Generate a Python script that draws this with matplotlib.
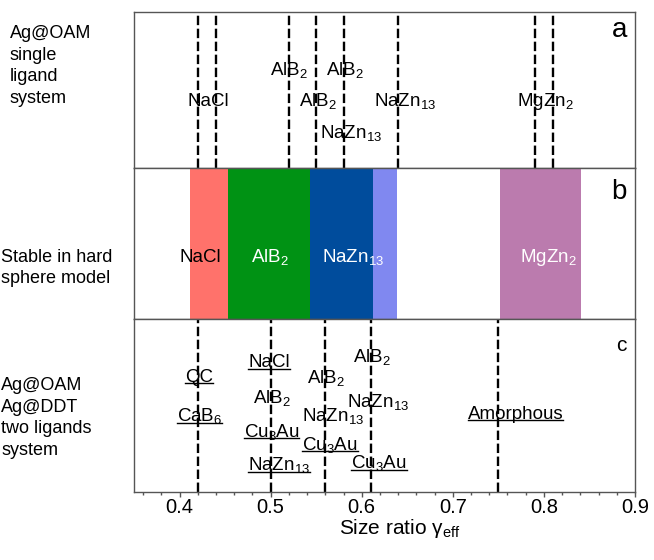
import numpy as np
import matplotlib
matplotlib.use("Agg")
import matplotlib.pyplot as plt
from matplotlib.lines import Line2D

plt.rcParams['font.family'] = ['Liberation Sans', 'DejaVu Sans']
plt.rcParams['mathtext.fontset'] = 'custom'
plt.rcParams['mathtext.rm'] = 'Liberation Sans'
plt.rcParams['mathtext.it'] = 'Liberation Sans:italic'
plt.rcParams['mathtext.default'] = 'regular'

# Panel a: Ag@OAM single ligand system
a_lines = [0.42, 0.44, 0.52, 0.55, 0.58, 0.64, 0.79, 0.81]
a_labels = ['AlB$_2$', 'AlB$_2$', 'NaCl', 'AlB$_2$', 'NaZn$_{13}$', 'MgZn$_2$', 'NaZn$_{13}$']
a_label_x = [0.520, 0.582, 0.432, 0.552, 0.648, 0.802, 0.588]
a_label_y = [0.596, 0.596, 0.397, 0.397, 0.397, 0.397, 0.192]

# Panel b: stable in hard sphere model
b_phases = ['NaCl', 'AlB$_2$', 'NaZn$_{13}$', '', 'MgZn$_2$']
b_start = [0.412, 0.453, 0.543, 0.612, 0.752]
b_end = [0.453, 0.543, 0.612, 0.639, 0.841]
b_colors = ['#ff726b', '#009214', '#004c9c', '#8088f0', '#bb7bae']
b_text_colors = ['black', 'white', 'white', 'white', 'white']
b_label_x = [0.423, 0.499, 0.590, 0.625, 0.805]
b_label_y = 0.379

# Panel c: Ag@OAM / Ag@DDT two ligands system
c_lines = [0.42, 0.50, 0.56, 0.61, 0.75]
c_labels = ['QC', 'CaB$_6$', 'NaCl', 'AlB$_2$', 'Cu$_3$Au', 'NaZn$_{13}$',
            'AlB$_2$', 'NaZn$_{13}$', 'Cu$_3$Au', 'AlB$_2$', 'NaZn$_{13}$',
            'Cu$_3$Au', 'Amorphous']
c_label_x = [0.421, 0.422, 0.498, 0.502, 0.501, 0.509,
             0.561, 0.569, 0.565, 0.611, 0.618, 0.619, 0.769]
c_label_y = [0.638, 0.410, 0.721, 0.513, 0.320, 0.127,
             0.628, 0.410, 0.243, 0.753, 0.493, 0.137, 0.422]
c_underline = [True, True, True, False, True, True,
               False, False, True, False, False, True, True]

fig = plt.figure(figsize=(6.54, 5.6), dpi=100)
gs = fig.add_gridspec(3, 1, height_ratios=[156, 151, 173], hspace=0,
                      left=134/654, right=635/654, top=1-12/560, bottom=1-492/560)
axes = [fig.add_subplot(gs[i]) for i in range(3)]

dash = (0, (4, 1.5))
fs = 13.5

for ax in axes:
    ax.set_xlim(0.35, 0.9)
    ax.set_ylim(0, 1)
    ax.set_yticks([])
    for s in ax.spines.values():
        s.set_color('#555555')
        s.set_linewidth(1)

# a
ax = axes[0]
for x in a_lines:
    ax.axvline(x, color='black', ls=dash, lw=1.7)
for t, x, y in zip(a_labels, a_label_x, a_label_y):
    ax.text(x, y, t, ha='center', va='baseline', fontsize=fs,
            transform=ax.get_xaxis_transform())
ax.text(0.984, 0.84, 'a', ha='right', va='baseline', fontsize=20, transform=ax.transAxes)
ax.set_xticks([])

# b
ax = axes[1]
for s, e, c in zip(b_start, b_end, b_colors):
    ax.axvspan(s, e, color=c, lw=0, zorder=2)
for t, x, c in zip(b_phases, b_label_x, b_text_colors):
    if t:
        ax.text(x, b_label_y, t, ha='center', va='baseline', fontsize=fs, color=c,
                transform=ax.get_xaxis_transform(), zorder=3)
ax.text(0.984, 0.793, 'b', ha='right', va='baseline', fontsize=20, transform=ax.transAxes)
ax.set_xticks([])

# c
ax = axes[2]
for x in c_lines:
    ax.axvline(x, color='black', ls=dash, lw=1.7)
c_texts = []
for t, x, y in zip(c_labels, c_label_x, c_label_y):
    c_texts.append(ax.text(x, y, t, ha='center', va='baseline', fontsize=fs,
                           transform=ax.get_xaxis_transform()))
ax.text(0.984, 0.815, 'c', ha='right', va='baseline', fontsize=15, transform=ax.transAxes)
ax.set_xticks(np.arange(0.4, 0.91, 0.1))
ax.set_xticks(np.arange(0.36, 0.91, 0.02), minor=True)
ax.set_xticklabels([f'{v:.1f}' for v in np.arange(0.4, 0.91, 0.1)])
ax.tick_params(axis='x', which='major', direction='out', length=3.5, width=1,
               labelsize=14.5, pad=1, color='#555555')
ax.tick_params(axis='x', which='minor', direction='out', length=2, width=1,
               color='#555555')

fig.text(400/654, 1-534/560, 'Size ratio γ$_{eff}$', ha='center', va='baseline',
         fontsize=15)

# side labels
fig.text(10/654, 1-66/560, 'Ag@OAM\nsingle\nligand\nsystem', ha='left', va='center',
         fontsize=13, linespacing=1.36)
fig.text(1/654, 1-268/560, 'Stable in hard\nsphere model', ha='left', va='center',
         fontsize=13, linespacing=1.36)
fig.text(1/654, 1-418/560, 'Ag@OAM\nAg@DDT\ntwo ligands\nsystem', ha='left', va='center',
         fontsize=13, linespacing=1.36)

# underlines for panel c
fig.canvas.draw()
renderer = fig.canvas.get_renderer()
inv = ax.transAxes.inverted()
for t, y, u in zip(c_texts, c_label_y, c_underline):
    if not u:
        continue
    bb = t.get_window_extent(renderer)
    x0 = inv.transform((bb.x0, 0))[0]
    x1 = inv.transform((bb.x1, 0))[0]
    yu = y - 1.5 / 173
    ax.add_line(Line2D([x0, x1], [yu, yu], color='black', lw=1,
                       transform=ax.transAxes))

fig.savefig('out.png', dpi=100)
